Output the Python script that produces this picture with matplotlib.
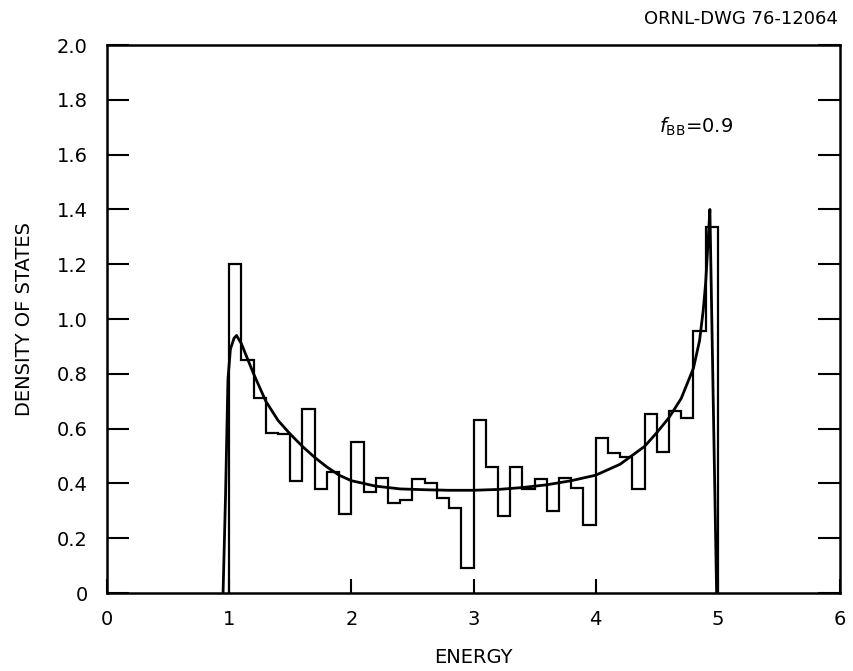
import matplotlib.pyplot as plt
import numpy as np

# histogram: 40 bins of width 0.1 from 1.0 to 5.0
bin_edges = np.round(np.arange(1.0, 5.001, 0.1), 2)
dos_hist = [1.20, 0.85, 0.71, 0.585, 0.58, 0.41, 0.67, 0.38, 0.44, 0.29,
            0.55, 0.37, 0.42, 0.33, 0.34, 0.415, 0.40, 0.345, 0.31, 0.09,
            0.63, 0.46, 0.28, 0.46, 0.38, 0.415, 0.30, 0.42, 0.385, 0.25,
            0.565, 0.51, 0.495, 0.38, 0.655, 0.515, 0.665, 0.64, 0.955, 1.335]

# smooth theoretical curve
curve_x = [0.95, 0.97, 0.99, 1.01, 1.04, 1.06, 1.1, 1.2, 1.3, 1.4, 1.5,
           1.6, 1.7, 1.8, 1.9, 2.0, 2.2, 2.4, 2.6, 2.8, 3.0, 3.2, 3.4,
           3.6, 3.8, 4.0, 4.2, 4.4, 4.5, 4.6, 4.7, 4.8, 4.85, 4.88, 4.9,
           4.92, 4.935, 4.99]
curve_y = [0.0, 0.35, 0.78, 0.89, 0.93, 0.94, 0.91, 0.80, 0.70, 0.63, 0.58,
           0.535, 0.495, 0.46, 0.43, 0.41, 0.39, 0.38, 0.377, 0.375, 0.375,
           0.378, 0.385, 0.395, 0.41, 0.43, 0.47, 0.535, 0.585, 0.64, 0.71,
           0.82, 0.92, 1.03, 1.13, 1.28, 1.40, 0.0]

x_ticks = [0, 1, 2, 3, 4, 5, 6]
y_ticks = [0, 0.2, 0.4, 0.6, 0.8, 1.0, 1.2, 1.4, 1.6, 1.8, 2.0]
y_ticklabels = ['0', '0.2', '0.4', '0.6', '0.8', '1.0', '1.2', '1.4', '1.6', '1.8', '2.0']

plt.rcParams['font.family'] = 'DejaVu Sans'
plt.rcParams['mathtext.fontset'] = 'dejavusans'

fig = plt.figure(figsize=(8.54, 6.71), dpi=100)
ax = fig.add_axes([0.1253, 0.1162, 0.8583, 0.8167])

# histogram outline
ax.stairs(dos_hist, bin_edges, baseline=0, color='black', linewidth=1.6)
# curve
ax.plot(curve_x, curve_y, color='black', linewidth=2.0)

ax.set_xlim(0, 6)
ax.set_ylim(0, 2.0)
ax.set_xticks(x_ticks)
ax.set_xticklabels([str(t) for t in x_ticks])
ax.set_yticks(y_ticks)
ax.set_yticklabels(y_ticklabels)

ax.tick_params(axis='y', direction='in', length=16, width=1.5, left=True, right=True,
               labelsize=14, pad=14)
ax.tick_params(axis='x', direction='in', length=10, width=1.5, top=False,
               labelsize=14, pad=12)
for s in ax.spines.values():
    s.set_linewidth(1.8)

ax.set_xlabel('ENERGY', fontsize=14, labelpad=14)
ax.set_ylabel('DENSITY OF STATES', fontsize=14, labelpad=16)

ax.text(4.52, 1.70, r'$f_{\mathrm{BB}}$=0.9', fontsize=14, va='center', ha='left')
fig.text(0.981, 0.972, 'ORNL-DWG 76-12064', fontsize=13, ha='right', va='center')

fig.savefig('out.png', dpi=100)
